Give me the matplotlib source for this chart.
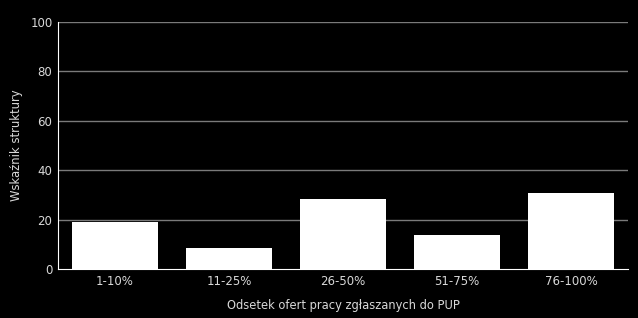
import matplotlib
matplotlib.use("Agg")
import matplotlib.pyplot as plt

# dane
kategorie = ["1-10%", "11-25%", "26-50%", "51-75%", "76-100%"]
wartosci = [19.0, 8.6, 28.4, 13.9, 30.9]
ticki_y = [0, 20, 40, 60, 80, 100]

fig = plt.figure(figsize=(6.38, 3.18), dpi=100, facecolor="black")
ax = fig.add_axes([58/638, 1 - 269/318, 570/638, 247/318], facecolor="black")

x = range(len(kategorie))
ax.bar(x, wartosci, width=0.755, color="white", zorder=3)

ax.set_xlim(-0.5, len(kategorie) - 0.5)
ax.set_ylim(0, 100)
ax.set_yticks(ticki_y)
ax.set_xticks(list(x))
ax.set_xticklabels(kategorie)

# siatka
for t in ticki_y[1:]:
    ax.axhline(t, color="#7a7a7a", lw=1, zorder=1)

for s in ["top", "right"]:
    ax.spines[s].set_visible(False)
ax.spines["left"].set_color("white")
ax.spines["bottom"].set_color("white")
ax.spines["bottom"].set_zorder(4)

ax.tick_params(axis="y", length=0, colors="#d8d8d8", labelsize=8.5, pad=4)
ax.tick_params(axis="x", length=0, colors="#d8d8d8", labelsize=8.5, pad=4)
ax.set_xlabel("Odsetek ofert pracy zgłaszanych do PUP", color="#d8d8d8", fontsize=8.3, labelpad=8)
ax.set_ylabel("Wskaźnik struktury", color="#d8d8d8", fontsize=8.4, labelpad=5)

fig.savefig("out.png", dpi=100, facecolor="black")
